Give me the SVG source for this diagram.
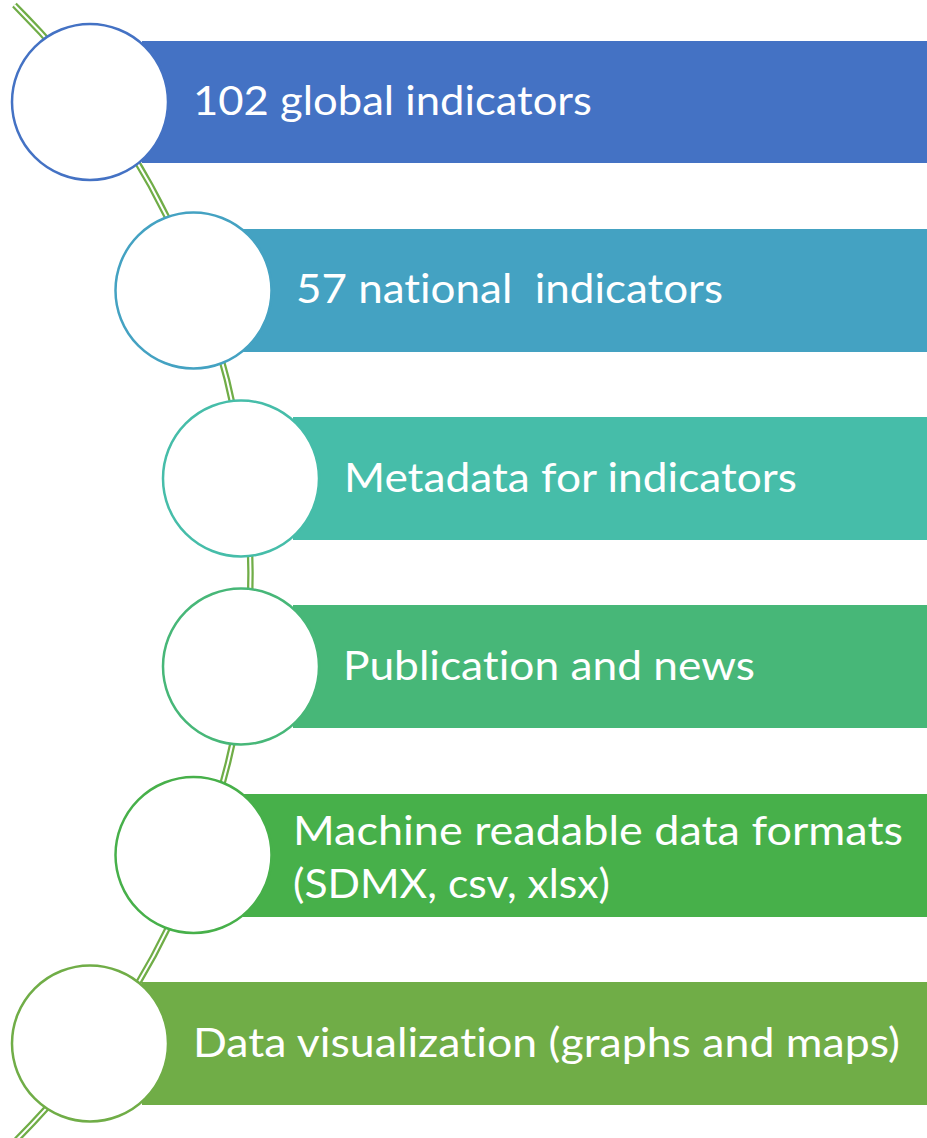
<svg xmlns="http://www.w3.org/2000/svg" width="927" height="1138" viewBox="0 0 927 1138">
<style>
.lbl{font-family:Lato,"Open Sans","Liberation Sans",sans-serif;font-size:41px;fill:#fff;white-space:pre;font-variant-ligatures:none;font-feature-settings:"liga" 0,"clig" 0}
.c{fill:#fff;stroke-width:2.5}
</style>
<rect width="927" height="1138" fill="#fff"/>
<g id="connectors">
<path d="M 14.4 5 A 802.5 802.5 0 0 1 16.4 1140" fill="none" stroke="#70AD47" stroke-width="6.5"/>
<path d="M 14.4 5 A 802.5 802.5 0 0 1 16.4 1140" fill="none" stroke="#fff" stroke-width="2"/>
</g>
<g id="node1">
<rect x="142" y="41" width="785" height="122" fill="#4472C4"/>
<circle class="c" cx="90" cy="102" r="78" stroke="#4472C4"/>
<text class="lbl" x="193" y="115" textLength="399" lengthAdjust="spacingAndGlyphs">102 global indicators</text>
</g>
<g id="node2">
<rect x="243" y="229" width="684" height="123" fill="#44A2C2"/>
<circle class="c" cx="193.5" cy="290.5" r="78" stroke="#44A2C2"/>
<text class="lbl" x="296" y="303" textLength="427" lengthAdjust="spacingAndGlyphs">57 national  indicators</text>
</g>
<g id="node3">
<rect x="293" y="417" width="634" height="123" fill="#46BDA9"/>
<circle class="c" cx="241" cy="478.5" r="78" stroke="#46BDA9"/>
<text class="lbl" x="344" y="492" textLength="453" lengthAdjust="spacingAndGlyphs">Metadata for indicators</text>
</g>
<g id="node4">
<rect x="293" y="605" width="634" height="123" fill="#47B778"/>
<circle class="c" cx="241" cy="666.5" r="78" stroke="#47B778"/>
<text class="lbl" x="343" y="680" textLength="412" lengthAdjust="spacingAndGlyphs">Publication and news</text>
</g>
<g id="node5">
<rect x="243" y="794" width="684" height="123" fill="#47B04A"/>
<circle class="c" cx="193.5" cy="855" r="78" stroke="#47B04A"/>
<text class="lbl" x="293" y="845" textLength="610" lengthAdjust="spacingAndGlyphs">Machine readable data formats</text>
<text class="lbl" x="293" y="898" textLength="317" lengthAdjust="spacingAndGlyphs">(SDMX, csv, xlsx)</text>
</g>
<g id="node6">
<rect x="142" y="982" width="785" height="123" fill="#70AD47"/>
<circle class="c" cx="90" cy="1043.5" r="78" stroke="#70AD47"/>
<text class="lbl" x="193" y="1057" textLength="707" lengthAdjust="spacingAndGlyphs">Data visualization (graphs and maps)</text>
</g>
</svg>
